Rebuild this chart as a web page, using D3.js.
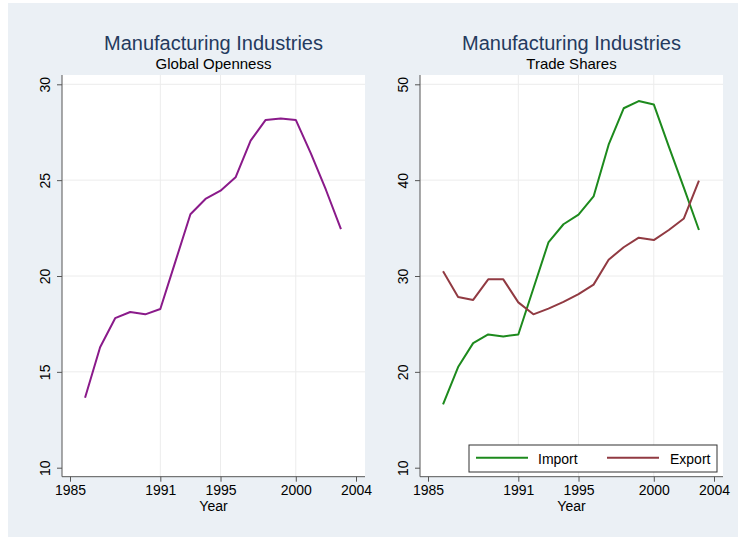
<!DOCTYPE html>
<html>
<head>
<meta charset="utf-8">
<script src="https://cdn.jsdelivr.net/npm/d3@7"></script>
<style>
  body { margin: 0; background: #fff; }
  svg { display: block; font-family: "Liberation Sans", Arial, sans-serif; }
</style>
</head>
<body>
<svg id="chart"></svg>
<script>
const years = [1986, 1987, 1988, 1989, 1990, 1991, 1992, 1993, 1994, 1995, 1996, 1997, 1998, 1999, 2000, 2001, 2002, 2003];
const openness = [13.65, 16.28, 17.8, 18.12, 18.0, 18.28, 20.75, 23.22, 24.02, 24.45, 25.15, 27.06, 28.14, 28.22, 28.14, 26.4, 24.5, 22.44];
const imports = [16.6, 20.5, 23.0, 23.9, 23.7, 23.9, 28.7, 33.5, 35.4, 36.4, 38.3, 43.7, 47.5, 48.25, 47.9, 43.5, 39.2, 34.8];
const exports = [30.5, 27.8, 27.5, 29.65, 29.65, 27.25, 26.0, 26.6, 27.3, 28.1, 29.1, 31.7, 33.0, 34.0, 33.75, 34.8, 36.0, 39.95];
const xTicks = [1985, 1991, 1995, 2000, 2004];
const yTicksLeft = [10, 15, 20, 25, 30];
const yTicksRight = [10, 20, 30, 40, 50];

const W = 738, H = 537;
const svg = d3.select("#chart").attr("width", W).attr("height", H);

// 背景
svg.append("rect").attr("width", W).attr("height", H).attr("fill", "#fff");
svg.append("rect").attr("x", 8).attr("y", 3).attr("width", W - 8).attr("height", H - 3).attr("fill", "#ebf0f5");

function panel(opt) {
  const x = d3.scaleLinear().domain([1985, 2004]).range([opt.x0 + 8, opt.x1 - 9]);
  const y = d3.scaleLinear().domain(opt.yDomain).range([467.7, 84.3]);
  const top = 75, bottom = 476.7;
  const g = svg.append("g");

  g.append("rect")
    .attr("x", opt.x0).attr("y", top)
    .attr("width", opt.x1 - opt.x0).attr("height", bottom - top)
    .attr("fill", "#fff");

  // 网格线
  g.selectAll(".hgrid")
    .data(opt.yTicks.slice(1))
    .join("line")
    .attr("x1", opt.x0).attr("x2", opt.x1)
    .attr("y1", d => y(d)).attr("y2", d => y(d))
    .attr("stroke", "#ececec").attr("stroke-width", 1);
  g.selectAll(".vgrid")
    .data(xTicks.slice(1, -1))
    .join("line")
    .attr("x1", d => x(d)).attr("x2", d => x(d))
    .attr("y1", top).attr("y2", bottom)
    .attr("stroke", "#ececec").attr("stroke-width", 1);

  // 坐标轴
  const xAxis = g.append("g")
    .attr("transform", `translate(0,${bottom})`)
    .call(d3.axisBottom(x).tickValues(xTicks).tickFormat(d3.format("d")).tickSize(5).tickPadding(3));
  xAxis.select(".domain").attr("d", `M${opt.x0},0H${opt.x1}`);
  const yAxis = g.append("g")
    .attr("transform", `translate(${opt.x0},0)`)
    .call(d3.axisLeft(y).tickValues(opt.yTicks).tickSize(5).tickPadding(6));
  yAxis.select(".domain").attr("d", `M0,${top}V${bottom}`);
  yAxis.selectAll(".tick text")
    .attr("transform", "rotate(-90)")
    .attr("x", 0).attr("y", -12)
    .attr("dy", 0)
    .attr("text-anchor", "middle");
  g.selectAll(".domain, .tick line").attr("stroke", "#555");
  g.selectAll(".tick text").attr("font-size", 14).attr("fill", "#000").attr("font-family", "Liberation Sans, Arial, sans-serif");

  const cx = (opt.x0 + opt.x1) / 2;
  g.append("text").attr("x", cx).attr("y", 511).attr("text-anchor", "middle")
    .attr("font-size", 14).attr("fill", "#000").text("Year");
  g.append("text").attr("x", cx).attr("y", 49.5).attr("text-anchor", "middle")
    .attr("font-size", 20).attr("fill", "#243a5e").text("Manufacturing Industries");
  g.append("text").attr("x", cx).attr("y", 69).attr("text-anchor", "middle")
    .attr("font-size", 15).attr("fill", "#000").text(opt.subtitle);

  const line = d3.line().x((d, i) => x(years[i])).y(d => y(d));
  opt.series.forEach(s => {
    g.append("path")
      .datum(s.values)
      .attr("fill", "none")
      .attr("stroke", s.color)
      .attr("stroke-width", 2)
      .attr("stroke-linejoin", "round")
      .attr("d", line);
  });
  return g;
}

panel({
  x0: 62, x1: 365, yDomain: [10, 30], yTicks: yTicksLeft,
  subtitle: "Global Openness",
  series: [{ name: "Openness", values: openness, color: "#8a1a8a" }]
});

const right = panel({
  x0: 420, x1: 723, yDomain: [10, 50], yTicks: yTicksRight,
  subtitle: "Trade Shares",
  series: [
    { name: "Import", values: imports, color: "#1d8a1d" },
    { name: "Export", values: exports, color: "#913a42" }
  ]
});

// 图例
const legend = right.append("g");
legend.append("rect")
  .attr("x", 469).attr("y", 445).attr("width", 248).attr("height", 27)
  .attr("fill", "#fff").attr("stroke", "#333").attr("stroke-width", 1);
[{ name: "Import", color: "#1d8a1d", lx: 476, tx: 538 },
 { name: "Export", color: "#913a42", lx: 607, tx: 670 }].forEach(d => {
  legend.append("line")
    .attr("x1", d.lx).attr("x2", d.lx + 52)
    .attr("y1", 457.7).attr("y2", 457.7)
    .attr("stroke", d.color).attr("stroke-width", 2);
  legend.append("text")
    .attr("x", d.tx).attr("y", 464)
    .attr("font-size", 14).attr("fill", "#000").text(d.name);
});
</script>
</body>
</html>
